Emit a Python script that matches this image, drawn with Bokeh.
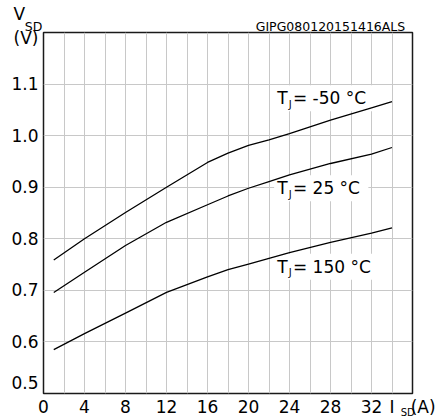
from bokeh.plotting import figure
from bokeh.models import Range1d, FixedTicker, Label, LinearAxis, Title
from bokeh.embed import file_html
from bokeh.resources import INLINE

# ---- data ----
i_sd = [1, 4, 8, 12, 16, 18, 20, 22, 24, 28, 32, 34]
v_m50 = [0.759, 0.800, 0.851, 0.900, 0.948, 0.966, 0.981, 0.992, 1.004, 1.030, 1.054, 1.066]
v_25 = [0.696, 0.735, 0.787, 0.832, 0.866, 0.883, 0.898, 0.911, 0.924, 0.946, 0.964, 0.977]
v_150 = [0.585, 0.616, 0.656, 0.696, 0.726, 0.740, 0.751, 0.762, 0.773, 0.793, 0.811, 0.821]

x_ticks = [0, 4, 8, 12, 16, 20, 24, 28, 32]
x_grid = list(range(0, 37, 2))
y_ticks = [0.6, 0.7, 0.8, 0.9, 1.0, 1.1]
y_grid = [0.5, 0.6, 0.7, 0.8, 0.9, 1.0, 1.1]

curve_labels = ["-50 °C", "25 °C", "150 °C"]
label_x = [22.5, 22.5, 22.5]
label_y = [1.0723, 0.8978, 0.7458]

code_text = "GIPG080120151416ALS"
NB = "\u00a0"
FONT = "DejaVu Sans"

p = figure(width=441, height=419, frame_width=369, frame_height=361,
           x_range=Range1d(0, 36), y_range=Range1d(0.5, 1.2),
           output_backend="svg", toolbar_location=None,
           min_border_left=43, min_border_right=29, min_border_top=32, min_border_bottom=26)

p.background_fill_color = "white"
p.border_fill_color = "white"
p.outline_line_color = "#1a1a1a"
p.outline_line_width = 1.5

p.xgrid.ticker = FixedTicker(ticks=x_grid)
p.ygrid.ticker = FixedTicker(ticks=y_grid)
for g in (p.xgrid, p.ygrid):
    g.grid_line_color = "#c8c8c8"
    g.grid_line_width = 1

def style_axis(ax, size="17px"):
    ax.axis_line_color = None
    ax.major_tick_line_color = None
    ax.minor_tick_line_color = None
    ax.major_tick_out = 0
    ax.major_tick_in = 0
    ax.major_label_text_font = FONT
    ax.major_label_text_font_size = size
    ax.major_label_text_color = "black"

# x axis: tick labels + "I  (A)" at the right end
xax = p.xaxis[0]
xax.ticker = FixedTicker(ticks=x_ticks + [36])
xax.major_label_overrides = {36: "I" + NB * 3 + "(A)"}
style_axis(xax)
xax.major_label_standoff = 3
# subscript SD of I_SD as the axis title, pulled up into the label row
xax.axis_label_text_font = FONT
xax.axis_label_text_font_size = "10px"
xax.axis_label_text_font_style = "normal"
xax.axis_label_text_color = "black"
xax.axis_label_standoff = -13
try:
    xax.axis_label_align = "end"
    xax.axis_label = "SD" + NB * 3
except Exception:
    xax.axis_label = NB * 109 + "SD"

# y axis: "0.5" sits above the bottom edge, "(V)" below the top edge
yax = p.yaxis[0]
y_lab_05 = 0.5194
y_lab_unit = 1.190
yax.ticker = FixedTicker(ticks=[y_lab_05] + y_ticks + [y_lab_unit])
yax.major_label_overrides = {y_lab_05: "0.5", 0.6: "0.6", 0.7: "0.7", 0.8: "0.8", 0.9: "0.9",
                             1.0: "1.0", 1.1: "1.1", y_lab_unit: "(V)"}
style_axis(yax)
yax.major_label_standoff = 5

# top row: subscript "SD" of V_SD and the drawing code, as labels of a top axis
top = LinearAxis(ticker=FixedTicker(ticks=[0, 28.0]),
                 major_label_overrides={0: "SD" + NB * 5, 28.0: code_text})
style_axis(top, "12.5px")
top.major_label_standoff = -1
p.add_layout(top, "above")
# "V" of V_SD
p.add_layout(Title(text="V", align="left", offset=-30, vertical_align="bottom", standoff=-16,
                   text_font=FONT, text_font_size="17px", text_font_style="normal",
                   text_color="black"), "above")

# curve labels (under the curves, over the grid)
for t, lx, ly in zip(curve_labels, label_x, label_y):
    p.add_layout(Label(x=lx, y=ly, text="T  = " + t, text_font=FONT, text_font_size="17px",
                       text_color="black", text_baseline="alphabetic", text_align="left",
                       background_fill_color="white", padding=3, level="underlay"))
    p.add_layout(Label(x=lx, y=ly, x_offset=14.5, y_offset=-6, text="J", text_font=FONT,
                       text_font_size="10px", text_color="black", text_baseline="alphabetic",
                       level="underlay"))

for v in (v_m50, v_25, v_150):
    p.line(i_sd, v, line_color="black", line_width=1.3)

open("out.html", "w").write(file_html(p, INLINE))
